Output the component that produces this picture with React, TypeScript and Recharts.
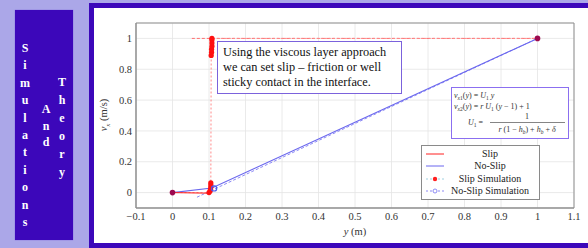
import React from 'react';
import { ComposedChart, Line, Scatter, XAxis, YAxis, CartesianGrid, ReferenceArea } from 'recharts';

// axis ticks
const xTicks = [-0.1, 0, 0.1, 0.2, 0.3, 0.4, 0.5, 0.6, 0.7, 0.8, 0.9, 1, 1.1];
const yTicks = [0, 0.2, 0.4, 0.6, 0.8, 1];

// analytic profiles
const slipX = [0, 0.1];
const slipY = [0, -0.004];
const noSlipX = [0, 0.108, 1];
const noSlipY = [0, 0.03, 1];

// simulation results
const slipSimX = [0, 0.1, 0.103, 0.104, 0.105, 0.105, 0.105, 0.106, 0.107, 0.107, 0.108, 0.108, 0.108, 0.108, 1];
const slipSimY = [0, 0, 0.01, 0.02, 0.035, 0.05, 0.063, 0.89, 0.91, 0.93, 0.95, 0.97, 0.99, 1.0, 1];
const slipLevelX = [0.053, 1];
const slipLevelY = [1, 1];
const noSlipSimX = [0.067, 1];
const noSlipSimY = [-0.03, 1];
const noSlipMarkX = [0.114];
const noSlipMarkY = [0.027];
const endX = [0, 1];
const endY = [0, 1];

const pts = (xs: number[], ys: number[]) => xs.map((x, i) => ({ x, y: ys[i] }));

const simLetters = 'Simulations'.split('');
const andLetters = 'And'.split('');
const theoryLetters = 'Theory'.split('');

const SERIF = '"Liberation Serif", "DejaVu Serif", serif';
const BLUE = '#3c07ba';
const RED = '#ff2020';
const LBLUE = '#6a67ee';

const fmt = (v: number) => {
  const s = String(Math.round(v * 10) / 10);
  return s.replace('-', '\u2212');
};

function Column({ letters, left, top, step }: { letters: string[]; left: number; top: number; step: number }) {
  return (
    <>
      {letters.map((c, i) => (
        <div key={i} style={{ position: 'absolute', left: left - 8, width: 16, top: top + i * step - 8, height: 16, lineHeight: '16px', textAlign: 'center', color: '#fff', fontWeight: 700, fontSize: 12, fontFamily: SERIF }}>{c}</div>
      ))}
    </>
  );
}

function LegendBox() {
  const rows = [
    { label: 'Slip', color: RED, dash: undefined as string | undefined, mark: 'none' },
    { label: 'No-Slip', color: LBLUE, dash: undefined, mark: 'none' },
    { label: 'Slip Simulation', color: '#ff6060', dash: '2 2', mark: 'dot' },
    { label: 'No-Slip Simulation', color: '#8d8af5', dash: '2 2', mark: 'circle' },
  ];
  return (
    <div style={{ position: 'absolute', left: 421, top: 145, width: 117, height: 53, border: '1px solid #8a8a8a', background: '#fff', fontFamily: SERIF, fontSize: 10 }}>
      {rows.map((r, i) => (
        <div key={r.label} style={{ position: 'absolute', left: 0, top: 2 + i * 12.4, width: 117, height: 12, lineHeight: '12px' }}>
          <svg width={20} height={12} style={{ position: 'absolute', left: 3, top: 0 }}>
            <line x1={1} y1={6} x2={19} y2={6} stroke={r.mark === 'dot' ? '#9fd0e0' : r.color} strokeWidth={1} strokeDasharray={r.dash} />
            {r.mark === 'dot' && <circle cx={10} cy={6} r={2.2} fill={RED} />}
            {r.mark === 'circle' && <circle cx={10} cy={6} r={2} fill="#fff" stroke="#8d8af5" />}
          </svg>
          <div style={{ position: 'absolute', left: 24, width: 88, textAlign: 'center', color: '#222' }}>{r.label}</div>
        </div>
      ))}
    </div>
  );
}

function FormulaBox() {
  const t = { fontFamily: SERIF, fontSize: 8, fill: '#333' } as const;
  return (
    <svg width={118} height={52} style={{ position: 'absolute', left: 451, top: 87, background: '#fff' }}>
      <rect x={0.5} y={0.5} width={117} height={51} fill="#fff" stroke="#8b6ff0" />
      <text x={3} y={11} {...t}>
        <tspan fontStyle="italic">v</tspan><tspan fontSize={5.5} dy={1.5} fontStyle="italic">x</tspan><tspan fontSize={5.5}>1</tspan>
        <tspan dy={-1.5}>(</tspan><tspan fontStyle="italic">y</tspan><tspan>) = </tspan><tspan fontStyle="italic">U</tspan><tspan fontSize={5.5} dy={1.5}>1</tspan><tspan dy={-1.5} fontStyle="italic"> y</tspan>
      </text>
      <text x={3} y={22} {...t}>
        <tspan fontStyle="italic">v</tspan><tspan fontSize={5.5} dy={1.5} fontStyle="italic">x</tspan><tspan fontSize={5.5}>2</tspan>
        <tspan dy={-1.5}>(</tspan><tspan fontStyle="italic">y</tspan><tspan>) = </tspan><tspan fontStyle="italic">r U</tspan><tspan fontSize={5.5} dy={1.5}>1</tspan><tspan dy={-1.5}> (</tspan><tspan fontStyle="italic">y</tspan><tspan> {'\u2212'} 1) + 1</tspan>
      </text>
      <text x={17} y={38} {...t}>
        <tspan fontStyle="italic">U</tspan><tspan fontSize={5.5} dy={1.5}>1</tspan><tspan dy={-1.5}> =</tspan>
      </text>
      <text x={76} y={32} textAnchor="middle" {...t}>1</text>
      <line x1={39} y1={35.5} x2={114} y2={35.5} stroke="#333" strokeWidth={0.6} />
      <text x={76} y={45} textAnchor="middle" {...t}>
        <tspan fontStyle="italic">r</tspan><tspan> (1 {'\u2212'} </tspan><tspan fontStyle="italic">h</tspan><tspan fontSize={5.5} dy={1.5} fontStyle="italic">b</tspan><tspan dy={-1.5}>) + </tspan><tspan fontStyle="italic">h</tspan><tspan fontSize={5.5} dy={1.5} fontStyle="italic">b</tspan><tspan dy={-1.5}> + </tspan><tspan fontStyle="italic">{'\u03b4'}</tspan>
      </text>
    </svg>
  );
}

const dotShape = (fill: string, r: number) => (p: any) => <circle cx={p.cx} cy={p.cy} r={r} fill={fill} />;
const ringShape = (p: any) => <circle cx={p.cx} cy={p.cy} r={2.6} fill="none" stroke="#4a5cf0" strokeWidth={1.2} />;

export default function App() {
  const tick = { fontFamily: SERIF, fontSize: 10.5, fill: '#333' };
  return (
    <div style={{ position: 'fixed', left: 0, top: 0, width: 588, height: 248, overflow: 'hidden', background: '#aba7e8', fontFamily: SERIF }}>
      <style>{`.recharts-text, .recharts-cartesian-axis-tick-value { font-family: "Liberation Serif", "DejaVu Serif", serif; }`}</style>
      <div style={{ position: 'absolute', left: 15, top: 10, width: 58, height: 230, background: BLUE, boxShadow: '0 0 1px #6b4fd8' }} />
      <Column letters={simLetters} left={25} top={48} step={17.4} />
      <Column letters={andLetters} left={46} top={109} step={16.5} />
      <Column letters={theoryLetters} left={62} top={82} step={18} />

      <div style={{ position: 'absolute', left: 89, top: 3, width: 520, height: 245, border: `5px solid ${BLUE}`, boxSizing: 'border-box', background: '#fff' }} />

      <div style={{ position: 'absolute', left: 0, top: 0 }}>
        <ComposedChart width={588} height={248} margin={{ top: 23, right: 14, bottom: 15, left: 96 }}>
          <CartesianGrid stroke="#e4e4e4" strokeWidth={0.8} />
          <XAxis dataKey="x" type="number" domain={[-0.1, 1.1]} ticks={xTicks} allowDataOverflow tickFormatter={fmt}
            tick={tick} tickLine={false} tickSize={0} tickMargin={5} axisLine={{ stroke: '#8f8f8f' }} height={25} />
          <YAxis dataKey="y" type="number" domain={[-0.1, 1.1]} ticks={yTicks} allowDataOverflow tickFormatter={fmt}
            tick={tick} tickLine={false} tickSize={0} tickMargin={4} axisLine={{ stroke: '#8f8f8f' }} width={40} />
          <ReferenceArea x1={-0.1} x2={1.1} y1={-0.1} y2={1.1} fill="none" stroke="#8f8f8f" strokeWidth={1} />

          <Line data={pts(slipLevelX, slipLevelY)} dataKey="y" type="linear" stroke="#ff7070" strokeWidth={1} strokeDasharray="3 2" dot={false} isAnimationActive={false} />
          <Line data={pts(slipSimX, slipSimY)} dataKey="y" type="linear" stroke="#ff8a8a" strokeWidth={1} strokeDasharray="2 2" dot={false} isAnimationActive={false} />
          <Line data={pts(noSlipSimX, noSlipSimY)} dataKey="y" type="linear" stroke="#8d8af5" strokeWidth={1} strokeDasharray="3 2" dot={false} isAnimationActive={false} />
          <Line data={pts(noSlipX, noSlipY)} dataKey="y" type="linear" stroke={LBLUE} strokeWidth={1.1} dot={false} isAnimationActive={false} />
          <Line data={pts(slipX, slipY)} dataKey="y" type="linear" stroke={RED} strokeWidth={1} dot={false} isAnimationActive={false} />

          <Scatter data={pts(slipSimX.slice(1, -1), slipSimY.slice(1, -1))} dataKey="y" shape={dotShape('#ff1010', 2.6)} isAnimationActive={false} />
          <Scatter data={pts(noSlipMarkX, noSlipMarkY)} dataKey="y" shape={ringShape} isAnimationActive={false} />
          <Scatter data={pts(endX, endY)} dataKey="y" shape={dotShape('#9c0a50', 2.8)} isAnimationActive={false} />
        </ComposedChart>
      </div>

      <div style={{ position: 'absolute', left: 104, top: 115, width: 0, height: 0 }}>
        <div style={{ position: 'absolute', left: -40, top: -8, width: 80, height: 16, textAlign: 'center', transform: 'rotate(-90deg)', fontFamily: SERIF, fontSize: 10.5, color: '#333', lineHeight: '16px', whiteSpace: 'nowrap' }}>
          <i>v</i><sub style={{ fontSize: 7 }}><i>x</i></sub> (m/s)
        </div>
      </div>
      <div style={{ position: 'absolute', left: 315, top: 226, width: 80, textAlign: 'center', fontFamily: SERIF, fontSize: 10.5, color: '#333' }}>
        <i>y</i> (m)
      </div>

      <div style={{ position: 'absolute', left: 217, top: 41, width: 185, height: 53, border: '1px solid #7b62dc', boxSizing: 'border-box', background: '#fff', fontFamily: SERIF, fontSize: 12.3, lineHeight: '15px', color: '#111', padding: '3px 0 0 5px', whiteSpace: 'nowrap' }}>
        Using the viscous layer approach<br />we can set slip – friction or well<br />sticky contact in the interface.
      </div>

      <FormulaBox />
      <LegendBox />
    </div>
  );
}
